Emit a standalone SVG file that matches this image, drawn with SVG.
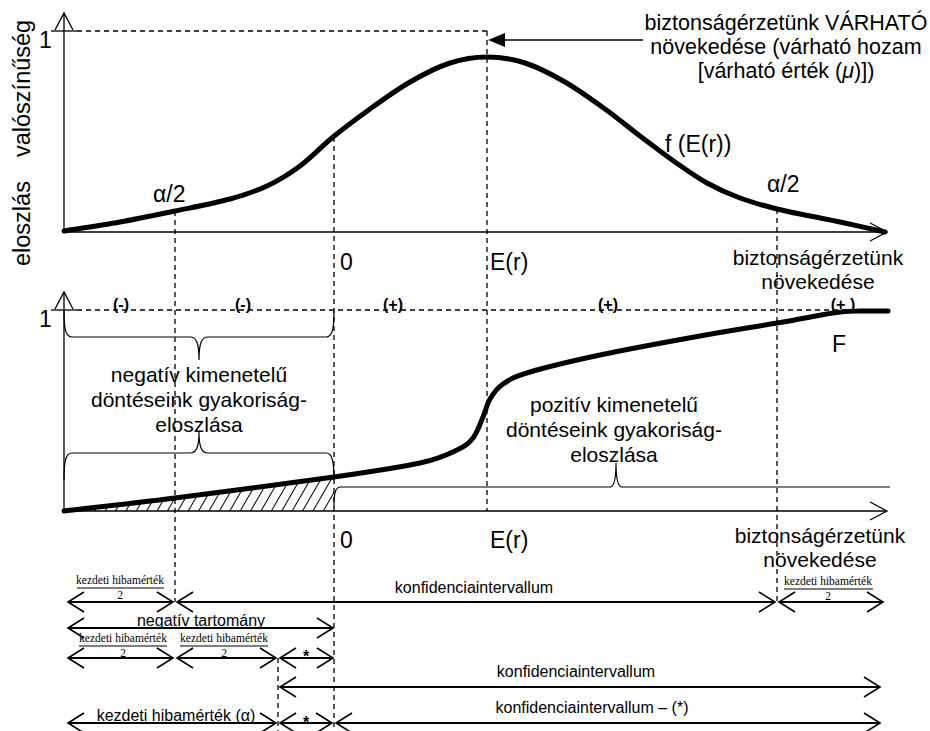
<svg xmlns="http://www.w3.org/2000/svg" width="930" height="731" viewBox="0 0 930 731">
<style>
text{font-family:"Liberation Sans",Arial,sans-serif;fill:#000}
.big{font-size:21px}
.lab{font-size:23px}
.mid{font-size:16px}
.pm{font-size:16px;font-weight:bold}
.fr{font-family:"Liberation Serif","Times New Roman",serif;font-size:11.5px}
.ax{stroke:#000;stroke-width:1.3;fill:none}
.dash{stroke:#000;stroke-width:1.3;stroke-dasharray:5 4;fill:none}
.curve{stroke:#000;stroke-width:5;fill:none;stroke-linecap:round}
.br{stroke:#000;stroke-width:1.2;fill:none}
.iv{stroke:#000;stroke-width:1.8;fill:none;marker-start:url(#chev);marker-end:url(#chev)}
.bar{stroke:#000;stroke-width:1.2}
</style>
<defs>
<marker id="chev" viewBox="-18 -12 20 24" refX="0" refY="0" markerWidth="20" markerHeight="24" markerUnits="userSpaceOnUse" orient="auto-start-reverse">
<path d="M-16,-10 L0,0 L-16,10" fill="none" stroke="#000" stroke-width="1.6"/>
</marker>
<marker id="axh" viewBox="-19 -11 21 22" refX="0" refY="0" markerWidth="21" markerHeight="22" markerUnits="userSpaceOnUse" orient="auto">
<path d="M-17,-9 L0,0 L-17,9" fill="none" stroke="#000" stroke-width="1.3"/>
</marker>
<pattern id="hatch" patternUnits="userSpaceOnUse" width="9" height="9" patternTransform="rotate(30)">
<line x1="4.5" y1="-1" x2="4.5" y2="10" stroke="#000" stroke-width="1"/>
</pattern>
</defs>

<g id="top-chart">
<line class="ax" x1="64" y1="232" x2="64" y2="13" marker-end="url(#axh)"/>
<line class="ax" x1="64" y1="232" x2="887" y2="232" marker-end="url(#axh)"/>
<line class="ax" x1="51" y1="31" x2="77" y2="31"/>
<line class="dash" x1="77" y1="31" x2="487" y2="31"/>
<path class="curve" d="M64,231 C73.3,229.5 101.5,225.3 120,222 C138.5,218.7 156.7,214.8 175,211 C193.3,207.2 214.7,203.2 230,199 C245.3,194.8 255.3,191.5 267,186 C278.7,180.5 289,174.2 300,166 C311,157.8 321.3,146.5 333,137 C344.7,127.5 357.2,118.2 370,109 C382.8,99.8 396.7,89.7 410,82 C423.3,74.3 437.2,67.2 450,63 C462.8,58.8 474.5,57 487,57 C499.5,57 512,58.8 525,63 C538,67.2 551.7,74.3 565,82 C578.3,89.7 592.5,100 605,109 C617.5,118 628.3,127.2 640,136 C651.7,144.8 663.8,154.2 675,162 C686.2,169.8 696.2,177 707,183 C717.8,189 728.3,193.7 740,198 C751.7,202.3 765.3,206 777,209 C788.7,212 799.5,213.8 810,216 C820.5,218.2 827.5,219.3 840,222 C852.5,224.7 877.5,230.3 885,232"/>
<text class="lab" x="39" y="48">1</text>
<text style="font-size:23.5px" transform="rotate(-90 30 157)" x="30" y="157">valószínűség</text>
<text style="font-size:23.5px" transform="rotate(-90 30 266)" x="30" y="266">eloszlás</text>
<text class="lab" x="153" y="202">α/2</text>
<text class="lab" x="767" y="192">α/2</text>
<text class="lab" x="665" y="152">f (E(r))</text>
<text class="lab" x="340" y="270">0</text>
<text class="lab" x="490" y="270">E(r)</text>
<text class="big" x="818" y="265" text-anchor="middle">biztonságérzetünk</text>
<text class="big" x="818" y="289" text-anchor="middle">növekedése</text>
</g>

<g id="expected-note">
<text class="big" x="786" y="30" text-anchor="middle" style="font-size:21.5px">biztonságérzetünk VÁRHATÓ</text>
<text class="big" x="786" y="54" text-anchor="middle" style="font-size:21.5px">növekedése (várható hozam</text>
<text class="big" x="786" y="78" text-anchor="middle" style="font-size:21.5px">[várható érték (<tspan font-style="italic">μ</tspan>)])</text>
</g>

<g id="bottom-chart">
<path d="M64,511 C82.5,508.8 130,503.7 175,498 C220,492.3 293.2,482.8 334,477 L334,511 Z" fill="url(#hatch)"/>
<line class="ax" x1="64" y1="511" x2="64" y2="292" marker-end="url(#axh)"/>
<line class="ax" x1="64" y1="511" x2="887" y2="511" marker-end="url(#axh)"/>
<line class="ax" x1="51" y1="310" x2="77" y2="310"/>
<line class="dash" x1="77" y1="310" x2="846" y2="310"/>
<path class="curve" d="M64,511 C82.5,508.8 130,503.7 175,498 C220,492.3 293.2,482.8 334,477 C374.8,471.2 399.5,467.5 420,463 C440.5,458.5 448.2,454.2 457,450 C465.8,445.8 468.7,443.5 473,438 C477.3,432.5 480.2,423.5 483,417 C485.8,410.5 486.7,404.5 490,399 C493.3,393.5 496.3,388.5 503,384 C509.7,379.5 513.8,376.8 530,372 C546.2,367.2 571.7,361 600,355 C628.3,349 670.5,341.3 700,336 C729.5,330.7 754.8,326.8 777,323 C799.2,319.5 819.2,315 833,313 C846.8,311 850.8,311.3 860,311 C869.2,311 883.3,311 888,311"/>
<text class="lab" x="39" y="327">1</text>
<text class="pm" x="121" y="310" text-anchor="middle">(-)</text>
<text class="pm" x="243" y="310" text-anchor="middle">(-)</text>
<text class="pm" x="393" y="310" text-anchor="middle">(+)</text>
<text class="pm" x="608" y="310" text-anchor="middle">(+)</text>
<text class="pm" x="843" y="310" text-anchor="middle">(+ )</text>
<text class="lab" x="832" y="352">F</text>
<text class="lab" x="340" y="548">0</text>
<text class="lab" x="490" y="548">E(r)</text>
<text class="big" x="820" y="543" text-anchor="middle">biztonságérzetünk</text>
<text class="big" x="820" y="567" text-anchor="middle">növekedése</text>
</g>

<g id="negative-brace">
<path class="br" d="M64,311 C64,330 66,337 72,337 L190,337 C196,337 199,342 199,360 C199,342 202,337 208,337 L326,337 C332,337 334,330 334,311"/>
<path class="br" d="M64,480 C64,460 66,453 72,453 L190,453 C196,453 199,448 199,432 C199,448 202,453 208,453 L326,453 C332,453 334,460 334,480"/>
<text class="big" x="199" y="382" text-anchor="middle">negatív kimenetelű</text>
<text class="big" x="199" y="407" text-anchor="middle">döntéseink gyakoriság-</text>
<text class="big" x="199" y="432" text-anchor="middle">eloszlása</text>
</g>

<g id="positive-brace">
<path class="br" d="M334,507 C334,493 335,487 341,487 L610,487 C614,487 616,480 616,463 C616,480 618,487 622,487 L890,487"/>
<text class="big" x="614" y="412" text-anchor="middle">pozitív kimenetelű</text>
<text class="big" x="614" y="437" text-anchor="middle">döntéseink gyakoriság-</text>
<text class="big" x="614" y="462" text-anchor="middle">eloszlása</text>
</g>

<g id="guides">
<line class="dash" x1="175" y1="211" x2="175" y2="602"/>
<line class="dash" x1="334" y1="137" x2="334" y2="731"/>
<line class="dash" x1="487" y1="31" x2="487" y2="511"/>
<line class="dash" x1="777" y1="209" x2="777" y2="602"/>
<line class="dash" x1="278" y1="658" x2="278" y2="731"/>
</g>

<g id="connectors">
<line x1="643" y1="40" x2="503" y2="40" stroke="#000" stroke-width="1.5"/>
<polygon points="488,40 505,33 505,47" fill="#000"/>
<line class="iv" x1="68" y1="602" x2="173" y2="602"/>
<line class="iv" x1="177" y1="602" x2="775" y2="602"/>
<line class="iv" x1="779" y1="602" x2="883" y2="602"/>
<line class="iv" x1="68" y1="628" x2="333" y2="628"/>
<line class="iv" x1="68" y1="658" x2="173" y2="658"/>
<line class="iv" x1="177" y1="658" x2="276" y2="658"/>
<line class="iv" x1="280" y1="658" x2="333" y2="658"/>
<line class="iv" x1="280" y1="687" x2="880" y2="687"/>
<line class="iv" x1="68" y1="723" x2="276" y2="723"/>
<line class="iv" x1="280" y1="723" x2="332" y2="723"/>
<line class="iv" x1="336" y1="723" x2="880" y2="723"/>
</g>

<g id="interval-labels">
<text class="fr" x="120" y="584" text-anchor="middle">kezdeti hibamérték</text>
<line class="bar" x1="77" y1="588" x2="164" y2="588"/>
<text class="fr" x="120" y="599" text-anchor="middle">2</text>
<text class="mid" x="474" y="593" text-anchor="middle">konfidenciaintervallum</text>
<text class="fr" x="828" y="585" text-anchor="middle">kezdeti hibamérték</text>
<line class="bar" x1="784" y1="589" x2="873" y2="589"/>
<text class="fr" x="828" y="600" text-anchor="middle">2</text>
<text class="mid" x="201" y="626" text-anchor="middle">negatív tartomány</text>
<text class="fr" x="123" y="642" text-anchor="middle">kezdeti hibamérték</text>
<line class="bar" x1="79" y1="646" x2="167" y2="646"/>
<text class="fr" x="123" y="657" text-anchor="middle">2</text>
<text class="fr" x="224" y="642" text-anchor="middle">kezdeti hibamérték</text>
<line class="bar" x1="180" y1="646" x2="268" y2="646"/>
<text class="fr" x="224" y="657" text-anchor="middle">2</text>
<text class="mid" x="306" y="662" text-anchor="middle" font-weight="bold">*</text>
<text class="mid" x="576" y="677" text-anchor="middle">konfidenciaintervallum</text>
<text class="mid" x="176" y="721" text-anchor="middle">kezdeti hibamérték (α)</text>
<text class="mid" x="306" y="728" text-anchor="middle" font-weight="bold">*</text>
<text class="mid" x="592" y="713" text-anchor="middle">konfidenciaintervallum – (*)</text>
</g>
</svg>
